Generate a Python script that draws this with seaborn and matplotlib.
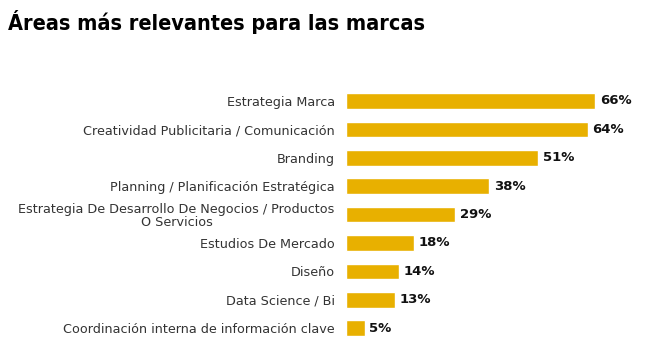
import seaborn as sns
import matplotlib.pyplot as plt
import pandas as pd

areas = [
    "Estrategia Marca",
    "Creatividad Publicitaria / Comunicación",
    "Branding",
    "Planning / Planificación Estratégica",
    "Estrategia De Desarrollo De Negocios / Productos\nO Servicios",
    "Estudios De Mercado",
    "Diseño",
    "Data Science / Bi",
    "Coordinación interna de información clave",
]
pct = [66, 64, 51, 38, 29, 18, 14, 13, 5]

df = pd.DataFrame({"Area": areas, "Pct": pct})

sns.set_style("white")
plt.rcParams['font.family'] = ['DejaVu Sans']

fig = plt.figure(figsize=(6.5, 3.5), dpi=100)
ax = fig.add_axes([0.532, 0.022, 0.465, 0.730])

sns.barplot(data=df, x="Pct", y="Area", color="#E8B000", saturation=1,
            width=0.55, ax=ax)

ax.set_xlim(0, 80)
ax.set_xlabel("")
ax.set_ylabel("")
ax.set_xticks([])
sns.despine(ax=ax, left=True, bottom=True)
ax.tick_params(axis="y", length=0, pad=8)
for lab in ax.get_yticklabels():
    lab.set_fontsize(9.2)
    lab.set_color("#333333")
    lab.set_multialignment("center")
    lab.set_linespacing(1.0)

for i, v in enumerate(pct):
    ax.text(v + 1.2, i, f"{v}%", va="center", ha="left",
            fontsize=9.5, fontweight="bold", color="#111111")

fig.text(0.012, 0.937, "Áreas más relevantes para las marcas",
         fontsize=15.5, fontweight="bold", color="black", va="center",
         family="DejaVu Sans", fontstretch="condensed")

fig.savefig("out.png", dpi=100)
